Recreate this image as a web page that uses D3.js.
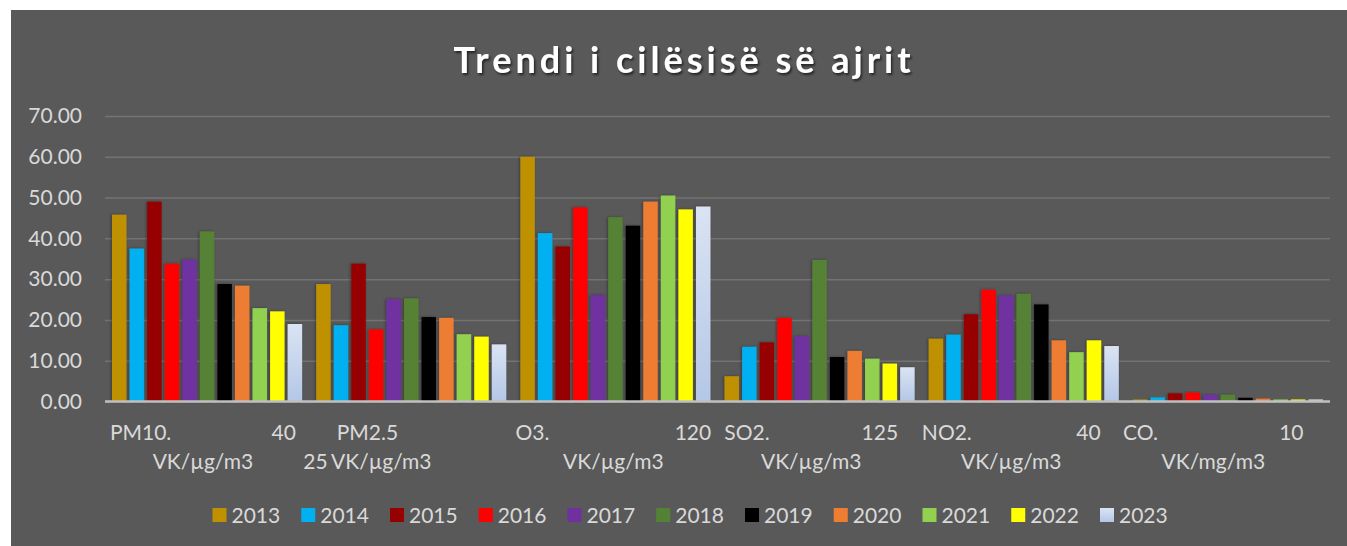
<!DOCTYPE html>
<html>
<head>
<meta charset="utf-8">
<script src="https://cdn.jsdelivr.net/npm/d3@7"></script>
<style>
  body { margin: 0; background: #fff; }
  text { font-family: Lato, "Open Sans", sans-serif; }
  .lbl { white-space: pre; word-spacing: -1.2px; }
</style>
</head>
<body>
<div class="chart"></div>
<script>
var svgWidth = 1347;
var svgHeight = 546;

// data
var categories = ["PM10", "PM2.5", "O3", "SO2", "NO2", "CO"];
var years = ["2013", "2014", "2015", "2016", "2017", "2018", "2019", "2020", "2021", "2022", "2023"];

var v2013 = [45.8, 28.8, 60.0, 6.2, 15.4, 0.5];
var v2014 = [37.5, 18.7, 41.3, 13.4, 16.4, 1.0];
var v2015 = [49.0, 33.8, 38.0, 14.5, 21.4, 2.0];
var v2016 = [33.8, 17.7, 47.6, 20.5, 27.4, 2.2];
var v2017 = [34.8, 25.1, 26.1, 16.0, 26.0, 1.7];
var v2018 = [41.7, 25.3, 45.2, 34.7, 26.4, 1.7];
var v2019 = [28.8, 20.7, 43.1, 10.9, 23.8, 0.9];
var v2020 = [28.4, 20.5, 49.0, 12.4, 15.0, 0.7];
var v2021 = [22.9, 16.5, 50.5, 10.5, 12.1, 0.5];
var v2022 = [22.1, 15.9, 47.1, 9.3, 15.0, 0.5];
var v2023 = [19.0, 14.0, 47.8, 8.4, 13.6, 0.5];

var yTicks = [0, 10, 20, 30, 40, 50, 60, 70];

// category labels as Excel wraps them (two lines each)
var labelLine1 = [
  "PM10.                        40  ",
  "PM2.5                     ",
  "O3.                              120 ",
  "SO2.                      125    ",
  "NO2.                         40      ",
  "CO.                             10       "
];
var labelLine2 = [
  "VK/µg/m3  ",
  "25 VK/µg/m3                     ",
  "VK/µg/m3 ",
  "VK/µg/m3    ",
  "VK/µg/m3      ",
  "VK/mg/m3       "
];

var colors = ["#bf9000", "#00b0f0", "#960000", "#ff0000", "#7030a0", "#548235",
              "#000000", "#ed7d31", "#92d050", "#ffff00", "url(#g2023)"];

var series = [v2013, v2014, v2015, v2016, v2017, v2018, v2019, v2020, v2021, v2022, v2023];

var margin = { top: 116, left: 105, right: 17, bottom: 144.5 };
var plotRight = svgWidth - margin.right;
var plotBottom = svgHeight - margin.bottom;

var svg = d3.select(".chart").append("svg")
  .attr("width", svgWidth)
  .attr("height", svgHeight);

var defs = svg.append("defs");
var grad = defs.append("linearGradient").attr("id", "g2023")
  .attr("x1", 0).attr("y1", 0).attr("x2", 0).attr("y2", 1);
grad.append("stop").attr("offset", "0%").attr("stop-color", "#dae3f3");
grad.append("stop").attr("offset", "100%").attr("stop-color", "#b4c7e7");

var sh = defs.append("filter").attr("id", "shadow")
  .attr("x", "-30%").attr("y", "-10%").attr("width", "160%").attr("height", "120%");
sh.append("feDropShadow").attr("dx", -1).attr("dy", 0).attr("stdDeviation", 1.5)
  .attr("flood-color", "#000").attr("flood-opacity", 0.35);

var tsh = defs.append("filter").attr("id", "tshadow");
tsh.append("feDropShadow").attr("dx", 1.5).attr("dy", 2).attr("stdDeviation", 1.2)
  .attr("flood-color", "#000").attr("flood-opacity", 0.6);

// chart area
svg.append("rect")
  .attr("x", 11).attr("y", 10)
  .attr("width", svgWidth - 11).attr("height", svgHeight - 10)
  .attr("fill", "#595959");

// title
svg.append("text")
  .attr("x", 684).attr("y", 73)
  .attr("text-anchor", "middle")
  .attr("fill", "#ffffff")
  .attr("font-size", 36)
  .attr("font-weight", "bold")
  .attr("letter-spacing", 4)
  .attr("filter", "url(#tshadow)")
  .text("Trendi i cilësisë së ajrit");

// scales
var x0 = d3.scaleBand().domain(categories).range([margin.left, plotRight]);
var x1 = d3.scaleBand().domain(years).range([0, x0.bandwidth()])
  .paddingInner(0.175).paddingOuter(0.4);
var y = d3.scaleLinear().domain([0, 70]).range([plotBottom, margin.top]);

// gridlines + y labels
var yAxis = d3.axisLeft(y)
  .tickValues(yTicks)
  .tickSize(-(plotRight - margin.left))
  .tickPadding(23)
  .tickFormat(d3.format(".2f"));

var gy = svg.append("g")
  .attr("transform", "translate(" + margin.left + ",0)")
  .call(yAxis);
gy.select(".domain").remove();
gy.selectAll(".tick line").attr("stroke", "#737373").attr("stroke-width", 1.5);
gy.selectAll(".tick text")
  .attr("fill", "#d9d9d9")
  .attr("font-size", 21)
  .attr("font-family", "Lato, sans-serif");

// bars
var groups = svg.append("g").selectAll("g")
  .data(categories)
  .enter().append("g")
  .attr("transform", function(d) { return "translate(" + x0(d) + ",0)"; });

groups.selectAll("rect")
  .data(function(d, i) {
    return years.map(function(yr, j) { return { year: yr, value: series[j][i], k: j }; });
  })
  .enter().append("rect")
  .attr("x", function(d) { return x1(d.year); })
  .attr("y", function(d) { return y(d.value); })
  .attr("width", x1.bandwidth())
  .attr("height", function(d) { return y(0) - y(d.value); })
  .attr("fill", function(d) { return colors[d.k]; })
  .attr("filter", "url(#shadow)");

// baseline
svg.append("line")
  .attr("x1", margin.left).attr("x2", plotRight)
  .attr("y1", y(0)).attr("y2", y(0))
  .attr("stroke", "#bfbfbf").attr("stroke-width", 2.5);

// category labels
var lab = svg.append("g");
lab.selectAll(".l1")
  .data(categories)
  .enter().append("text")
  .attr("class", "lbl")
  .attr("x", function(d) { return x0(d) + x0.bandwidth() / 2; })
  .attr("y", 440)
  .attr("text-anchor", "middle")
  .attr("fill", "#d9d9d9")
  .attr("font-size", 21)
  .text(function(d, i) { return labelLine1[i]; });

lab.selectAll(".l2")
  .data(categories)
  .enter().append("text")
  .attr("class", "lbl")
  .attr("x", function(d) { return x0(d) + x0.bandwidth() / 2; })
  .attr("y", 469)
  .attr("text-anchor", "middle")
  .attr("fill", "#d9d9d9")
  .attr("font-size", 21)
  .text(function(d, i) { return labelLine2[i]; });

// legend
var lx = d3.scaleBand().domain(years).range([212.5, 212.5 + 88.75 * years.length]);
var leg = svg.append("g").selectAll("g")
  .data(years)
  .enter().append("g")
  .attr("transform", function(d) { return "translate(" + lx(d) + ",508)"; });

leg.append("rect")
  .attr("width", 14).attr("height", 14)
  .attr("fill", function(d, i) { return colors[i]; });

leg.append("text")
  .attr("x", 19).attr("y", 14.5)
  .attr("fill", "#d9d9d9")
  .attr("font-size", 21)
  .text(function(d) { return d; });
</script>
</body>
</html>
